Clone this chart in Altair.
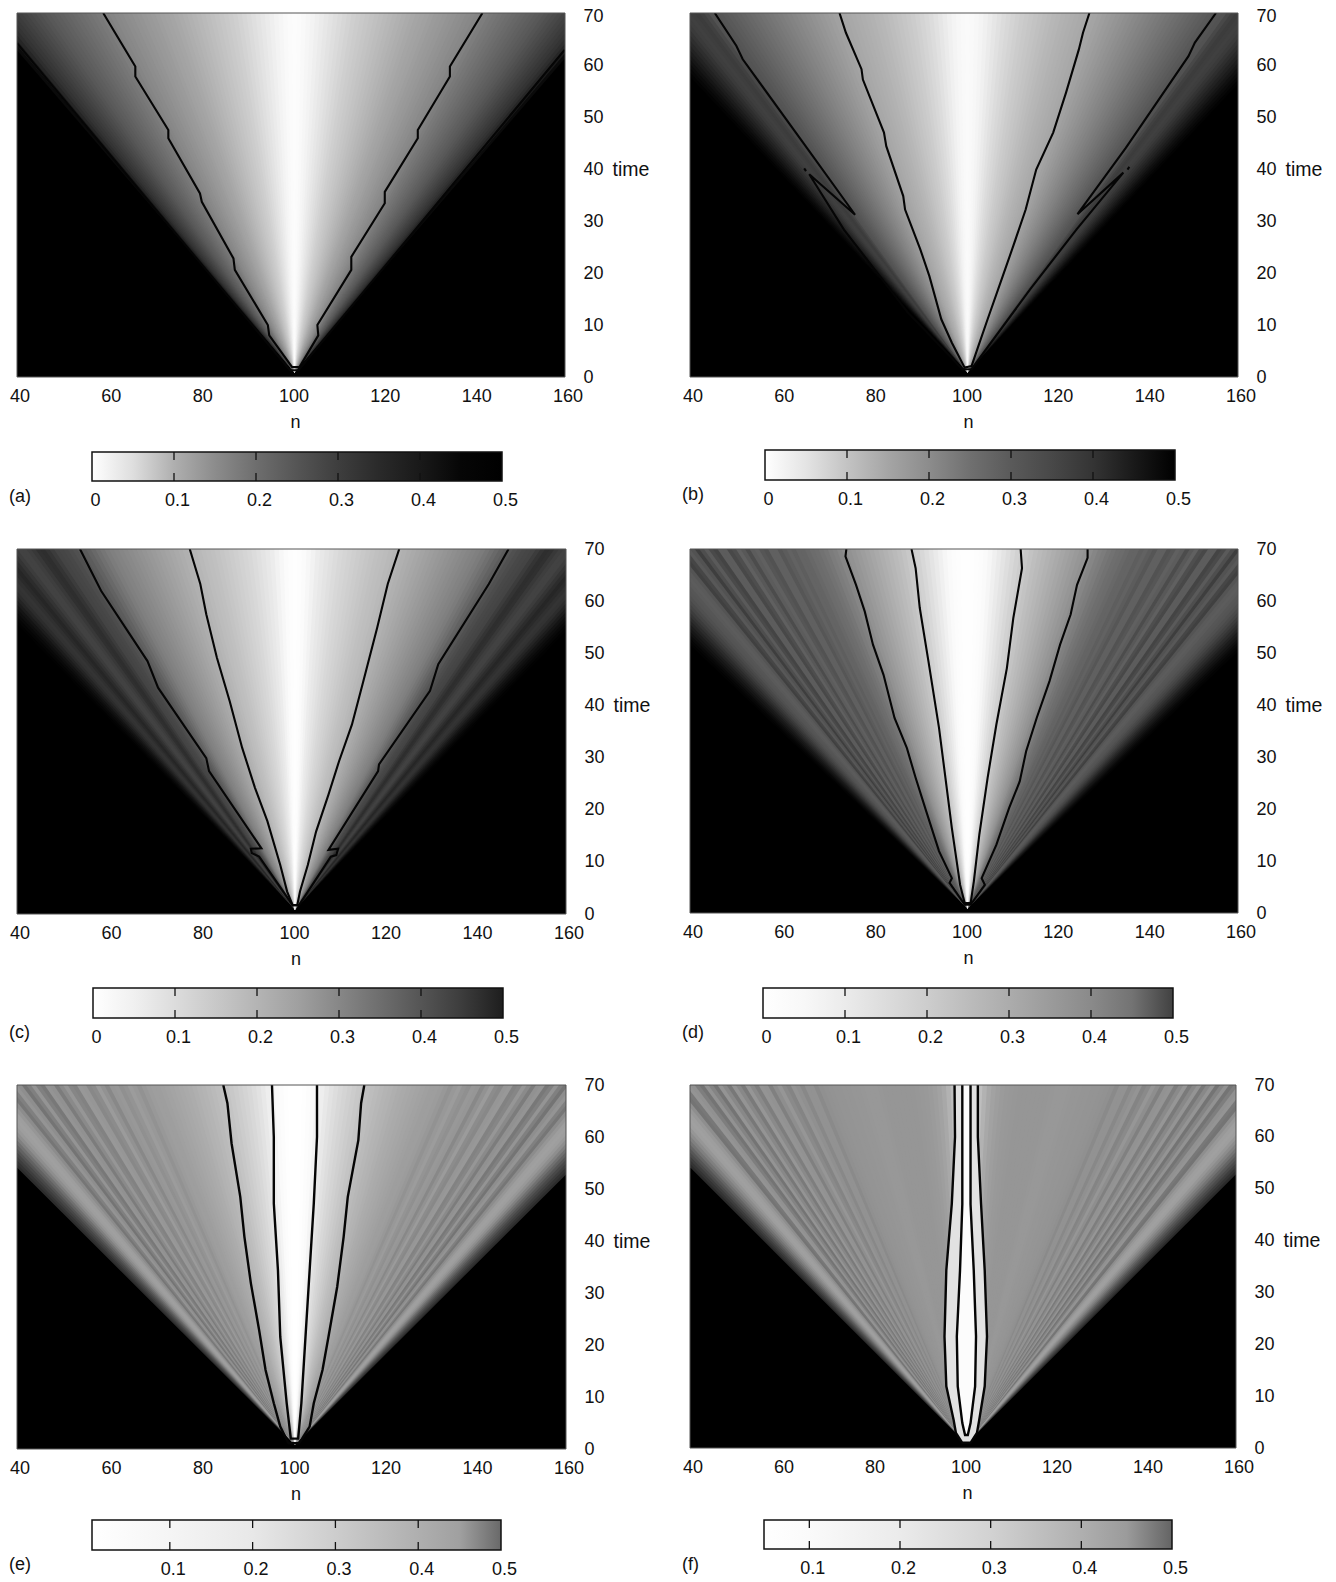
import altair as alt
import pandas as pd

FONT = "Liberation Sans"
N_TICKS = [40, 60, 80, 100, 120, 140, 160]
T_TICKS = [0, 10, 20, 30, 40, 50, 60, 70]
N_DOMAIN = [39.5, 159.0]
N_AXIS_DOMAIN = [40, 160]
T_DOMAIN = [0, 70]
APEX_N = 100.0
APEX_T = 0.8

# grey level (0-255) read along the top edge, by distance from n=100 at time 70
GREY_A = [252,251,249,246,243,239,235,231,227,223,219,215,211,207,204,201,198,195,192,189,186,
          183,180,177,174,171,168,165,163,161,158,155,153,151,148,146,143,141,138,136,133,
          129,125,121,118,115,112,109,106,103,100,97,94,91,88,84,80,76,72,68,64,60,56,52,46,38,26,10,0]
GREY_B = [250,249,247,244,240,235,230,225,220,216,212,208,204,201,198,195,192,189,186,183,181,
          178,176,174,172,170,168,166,164,161,158,155,152,149,146,143,140,137,134,131,128,
          125,122,119,116,113,110,107,104,101,98,95,92,89,86,84,82,72,64,60,62,
          64,62,58,52,46,40,34,28,22,16,11,7,3,0]
GREY_C = [254,253,251,247,242,236,232,228,224,220,216,213,210,207,204,201,198,195,192,190,188,
          185,182,179,176,173,170,167,164,161,158,155,152,149,146,143,140,137,134,131,128,
          124,118,112,105,98,92,86,80,76,72,70,68,60,52,46,48,56,62,66,66,
          60,52,44,38,42,48,52,50,44,36,28,20,14,9,5,2,0]
GREY_D = [254,254,253,252,250,246,240,234,228,222,216,210,205,200,195,190,186,182,178,174,170,
          166,162,158,154,150,146,140,134,128,124,118,114,110,108,104,100,100,94,98,92,
          86,96,96,82,86,96,92,76,88,96,78,72,92,92,68,74,90,78,62,82,
          88,70,64,84,90,92,90,86,84,80,74,68,60,52,44,36,28,22,16,10,6,3,0]
GREY_E = [255,255,254,252,250,244,238,232,226,221,216,212,208,204,200,196,192,189,186,183,180,
          178,175,172,170,168,166,164,162,160,158,158,156,152,146,152,156,148,144,152,150,
          136,146,155,140,136,150,152,130,134,150,138,124,145,148,120,128,148,128,116,142,
          148,128,118,140,150,158,160,158,152,142,128,112,98,84,72,62,52,44,0]
GREY_F = [255,255,235,190,178,168,162,158,155,153,152,151,150,150,150,150,150,150,150,151,152,
          152,152,151,150,150,149,149,148,148,147,146,144,138,146,146,136,144,148,132,138,
          150,142,128,146,148,126,138,150,122,136,148,120,136,148,116,132,146,116,126,145,
          148,120,116,142,152,158,160,158,150,140,128,115,100,86,74,62,52,42,0]

# colour bar: value, grey level
BAR_A = [(0,255),(.05,222),(.1,175),(.15,140),(.2,110),(.25,85),(.3,62),(.35,42),(.4,25),(.45,6),(.5,0)]
BAR_B = [(0,255),(.05,228),(.1,195),(.15,165),(.2,140),(.25,112),(.3,90),(.35,72),(.4,52),(.45,25),(.5,0)]
BAR_C = [(0,255),(.05,240),(.1,220),(.15,200),(.2,180),(.25,160),(.3,135),(.35,110),(.4,85),(.45,60),(.5,30)]
BAR_D = [(0,255),(.05,248),(.1,235),(.15,220),(.2,205),(.25,188),(.3,172),(.35,155),(.4,138),(.45,115),(.5,65)]
BAR_E = [(.006,255),(.1,245),(.2,232),(.3,205),(.4,175),(.45,160),(.5,105)]
BAR_F = [(.05,255),(.1,250),(.2,235),(.3,210),(.4,175),(.45,155),(.5,100)]

# contours (n, time)
A_L = [(58.3,70),(65.3,59.7),(65.3,57.8),(72.5,47.5),(72.5,45.9),(79.4,35.3),(79.8,33.7),(86.7,22.8),(87,20.6),(94.2,10),(94.5,8),(99.5,1.9)]
A_R = [(141,70),(133.9,59.7),(133.9,57.8),(126.9,47.5),(126.9,45.9),(119.7,35.6),(119.7,33.4),(112.4,23.1),(112.4,20.6),(105,10),(105.2,8),(101.1,1.9)]
A_EDGE = [(39.5,64.2),(99,1.3),(100.9,1.3),(158.9,62.9)]

B_IL = [(72.1,70),(73.5,66.2),(76.9,59.2),(77.2,57.2),(81.8,47),(82.3,44.4),(86,34.8),(86.4,32.2),(89.7,24.6),(91.7,19.4),(94.3,11.1),(96.6,6.6),(99.4,1.8)]
B_IR = [(126.6,70),(125.2,66.2),(124.3,63),(121.5,54.7),(118.7,47),(115,39.9),(112.7,32.2),(110,25.2),(107.7,19.4),(104.4,11.1),(102.4,6),(100.9,2.1)]
B_OL = [(44.9,70),(49.6,63.7),(51,61.1),(65.3,43.7),(75.5,31.2),(65.5,39),(73.1,28.3),(86.9,12.5),(98.9,1.5)]
B_OR = [(154.2,70),(149.6,64.3),(148.2,61.7),(134.5,44),(124,31.3),(134,39.3),(123.8,28.4),(113.7,16.9),(100.9,1.5)]
B_DOT1 = [(64.4,40.1),(64.8,39.6)]
B_DOT2 = [(135.3,40.4),(134.9,39.9)]

C_OL = [(53.2,70),(57.8,62),(67.9,48.5),(70.2,43.4),(80.7,29.9),(81.3,27.4),(92.7,12.6),(90.4,12.5),(90.6,11.7),(92.2,11),(99.5,1.7)]
C_OR = [(146.5,70),(142.2,63.3),(131.2,47.9),(129.4,42.8),(118.3,28.7),(118.1,27.4),(107.3,12.3),(109.4,12.5),(109,11.3),(107.8,11),(100.9,1.7)]
C_IL = [(77.1,70),(79.4,63.3),(80.7,57.5),(83,49.2),(85.8,40.8),(88.5,31.9),(91.3,24.2),(94,17.8),(96.8,9.4),(98.3,4.3),(99.5,1.7)]
C_IR = [(122.7,70),(120.2,63.3),(117.9,54.9),(114.7,44),(112.4,36.3),(109.6,29.3),(107.3,22.9),(104.6,15.8),(102.8,9.4),(101.1,4.3),(100.5,1.7)]

D_OL = [(73.6,70),(73.4,68.6),(75.7,63.1),(77.6,58),(79.4,51.6),(81.7,45.8),(84.1,37.5),(86.8,31.7),(88.7,26),(91,19.6),(93.8,11.9),(96.6,6.7),(96.1,5.8),(99.4,1.6)]
D_OR = [(126.2,70),(126.2,68.3),(123.9,63.1),(122.5,57.4),(120.2,51.6),(117.9,44.6),(115.1,37.5),(112.8,31.1),(111.4,25.3),(109.1,20.2),(106.3,13.1),(103.1,6.7),(103.8,5.4),(100.7,1.6)]
D_IL = [(87.8,70),(88.7,66.3),(89.6,58.7),(91.5,48.4),(93.8,35.6),(95.2,26),(96.6,16.3),(98.4,5.4),(99.4,1.9)]
D_IR = [(111.6,70),(111.9,66.3),(110,56.7),(108.6,47.1),(106.3,36.2),(104.4,26),(102.6,15.1),(101.4,6.1),(100.7,1.9)]

E_OL = [(84.4,70),(85.3,66.5),(86.2,58.8),(88.1,48.5),(89,40.8),(90.4,31.9),(92.2,22.9),(93.6,15.2),(95.4,8.8),(96.8,4.3),(98.6,1.1)]
E_OR = [(115.1,70),(114.4,66.5),(113.8,59.4),(111.5,48.5),(110.6,40.8),(109.2,31.2),(107.3,21.6),(106,15.2),(104.1,8.8),(103.2,4.3),(100.9,1.1)]
E_IL = [(95,70),(95.4,60),(95.4,47.2),(96.3,34.4),(96.8,21.6),(98.2,8.8),(99.1,2)]
E_IR = [(104.8,70),(104.8,60),(104.1,47.2),(103.2,34.4),(102.3,21.6),(101.4,8.8),(100.7,2)]

F_OL = [(97.4,70),(97.5,60),(96.8,47.1),(95.6,34.3),(95.2,21.5),(95.6,11.9),(97.2,5.4),(97.7,2.9),(99.1,1)]
F_OR = [(102.5,70),(102.5,60),(103.2,47.1),(104,34.3),(104.5,21.5),(104,11.9),(102.8,5.4),(102.3,2.9),(100.9,1)]
F_IL = [(99.1,70),(99.1,47),(98.6,34.3),(97.9,21.5),(98.1,11.9),(99.1,4.8),(99.7,2.5)]
F_IR = [(100.9,70),(100.9,47),(101.6,34.3),(102.1,21.5),(101.9,11.9),(100.9,4.8),(100.3,2.5)]


def hexgrey(g):
    return "#{0:02x}{0:02x}{0:02x}".format(int(g))


def closed(left, right):
    return left + right[::-1]


def panel(grey, paths, w, h, fills=(), time_x=47, line_w=2.1, top_nudge=0):
    bands = []
    for off in range(len(grey) - 1, -1, -1):
        for t in (APEX_T, 70):
            s = (off + 0.5) * (t - APEX_T) / (70 - APEX_T)
            bands.append({"band": len(grey) - off, "t": t, "x0": APEX_N - s, "x1": APEX_N + s, "c": hexgrey(grey[off])})
    xs = alt.Scale(domain=N_DOMAIN, nice=False, zero=False)
    ys = alt.Scale(domain=T_DOMAIN, nice=False, zero=False)
    y_axis = alt.Axis(
        orient="right", values=T_TICKS, ticks=False, domain=False, grid=False,
        labelAlign="left", labelBaseline="middle", labelPadding=18, labelFont=FONT,
        labelFontSize=18, labelColor="#111", labelFlush=False, labelOverlap=False,
        labelOffset={"condition": {"test": "datum.value == 70", "value": top_nudge}, "value": 0},
        title="time", titleFont=FONT, titleFontSize=19.5, titleFontWeight="normal", titleColor="#111",
        titleAngle=0, titleAlign="left", titleBaseline="middle",
        titleX=time_x, titleY=h * 30 / 70)
    x_axis = alt.Axis(
        orient="bottom", values=N_TICKS, ticks=False, domain=False, grid=False,
        labelPadding=10, labelFont=FONT, labelFontSize=18, labelColor="#111",
        labelFlush=False, labelOverlap=False, labelBound=False, labelOffset=2.5,
        title="n", titleFont=FONT, titleFontSize=18, titleFontWeight="normal", titleColor="#111",
        titlePadding=8, titleX=w / 2 + 4)
    back = alt.Chart(pd.DataFrame({"a": [0]})).mark_rect(color="black").encode(
        x=alt.value(0), x2=alt.value(w), y=alt.value(0), y2=alt.value(h))
    ticks_layer = alt.Chart(pd.DataFrame({"n": N_AXIS_DOMAIN})).mark_rule(opacity=0).encode(
        x=alt.X("n:Q", scale=alt.Scale(domain=N_AXIS_DOMAIN, nice=False, zero=False), axis=x_axis))
    fan = alt.Chart(pd.DataFrame(bands)).mark_area(orient="horizontal", clip=True).encode(
        y=alt.Y("t:Q", scale=ys, axis=y_axis),
        x=alt.X("x0:Q", scale=xs, axis=None),
        x2="x1:Q",
        color=alt.Color("c:N", scale=None),
        detail="band:O")
    layers = [back, ticks_layer, fan]
    for (left, right, g) in fills:
        rows = [{"t": a[1], "x0": a[0], "x1": b[0]} for a, b in zip(left, right)]
        layers.append(alt.Chart(pd.DataFrame(rows)).mark_area(orient="horizontal", clip=True, color=hexgrey(g)).encode(
            y=alt.Y("t:Q", scale=ys, axis=y_axis), x=alt.X("x0:Q", scale=xs, axis=None), x2="x1:Q"))
    rows = []
    for k, p in enumerate(paths):
        for i, (n, t) in enumerate(p):
            rows.append({"id": k, "i": i, "n": n, "t": t})
    layers.append(alt.Chart(pd.DataFrame(rows)).mark_line(color="#050505", strokeWidth=line_w, clip=True).encode(
        x=alt.X("n:Q", scale=xs, axis=None), y=alt.Y("t:Q", scale=ys, axis=y_axis),
        detail="id:N", order="i:Q"))
    layers.append(alt.Chart(pd.DataFrame({"a": [0]})).mark_rect(fill="transparent", stroke="#555", strokeWidth=1).encode(
        x=alt.value(0), x2=alt.value(w), y=alt.value(0), y2=alt.value(h)))
    return alt.layer(*layers).resolve_scale(x="independent").properties(width=w, height=h)


def colorbar(stops, label, w, cell_h, y0, y1, x0_px, x1_px):
    lo, hi = stops[0][0], stops[-1][0]
    per_px = (hi - lo) / (x1_px - x0_px)
    dom = [lo - x0_px * per_px, lo + (w - x0_px) * per_px]
    xs = alt.Scale(domain=dom, nice=False, zero=False)
    ticks = [v for v in [0, .1, .2, .3, .4, .5] if v >= lo]
    axis = alt.Axis(
        orient="bottom", offset=y1 - cell_h, values=ticks, format=".1~f", ticks=False, domain=False, grid=False,
        labelPadding=10, labelFont=FONT, labelFontSize=18, labelColor="#111",
        labelFlush=False, labelOverlap=False, labelBound=False, labelOffset=3, title=None)
    grad = alt.LinearGradient(
        gradient="linear", x1=0, x2=1, y1=0, y2=0,
        stops=[alt.GradientStop(color=hexgrey(g), offset=(v - lo) / (hi - lo)) for v, g in stops])
    bar = alt.Chart(pd.DataFrame({"v0": [lo], "v1": [hi]})).mark_rect(
        fill=grad, stroke="#111", strokeWidth=1.5).encode(
        x=alt.X("v0:Q", scale=xs, axis=axis),
        x2="v1:Q", y=alt.value(y0), y2=alt.value(y1))
    inner = [v for v in ticks if lo < v < hi]
    tdf = pd.DataFrame({"v": inner})
    top = alt.Chart(tdf).mark_rule(color="#111", strokeWidth=1.3).encode(
        x=alt.X("v:Q", scale=xs, axis=axis), y=alt.value(y0), y2=alt.value(y0 + 8))
    bot = alt.Chart(tdf).mark_rule(color="#111", strokeWidth=1.3).encode(
        x=alt.X("v:Q", scale=xs, axis=axis), y=alt.value(y1 - 8), y2=alt.value(y1))
    tag = alt.Chart(pd.DataFrame({"a": [0]})).mark_text(
        text=label, align="left", baseline="middle", font=FONT, fontSize=18, color="#111").encode(
        x=alt.value(-8), y=alt.value(y0 + 45))
    return alt.layer(bar, top, bot, tag).properties(width=w, height=cell_h)


cells = [
    panel(GREY_A, [closed(A_L, A_R), A_EDGE], 548, 364, top_nudge=3),
    panel(GREY_B, [closed(B_OL, B_OR), closed(B_IL, B_IR), B_DOT1, B_DOT2], 548, 364, top_nudge=3),
    colorbar(BAR_A, "(a)", 548, 172, 75, 104, 75, 485),
    colorbar(BAR_B, "(b)", 548, 172, 73, 103, 75, 485),
    panel(GREY_C, [closed(C_OL, C_OR), closed(C_IL, C_IR)], 549, 365),
    panel(GREY_D, [closed(D_OL, D_OR), closed(D_IL, D_IR)], 548, 364),
    colorbar(BAR_C, "(c)", 549, 171, 74, 104, 76, 486),
    colorbar(BAR_D, "(d)", 548, 171, 74, 104, 73, 483),
    panel(GREY_E, [closed(E_OL, E_OR), closed(E_IL, E_IR)], 549, 364, line_w=2.4),
    panel(GREY_F, [closed(F_OL, F_OR), closed(F_IL, F_IR)], 546, 363,
          fills=[(F_OL, F_OR, 226), (F_IL, F_IR, 252)], line_w=2.4),
    colorbar(BAR_E, "(e)", 549, 101, 71, 101, 75, 484),
    colorbar(BAR_F, "(f)", 546, 101, 71, 100, 74, 482),
]

chart = alt.concat(*cells, columns=2, spacing={"row": 0, "column": 124}, bounds="flush").properties(
    padding={"left": 1, "top": -1, "right": 0, "bottom": 0}, background="white"
).configure_view(stroke=None)

chart.save("out.html", embed_options={"renderer": "svg", "actions": False})
